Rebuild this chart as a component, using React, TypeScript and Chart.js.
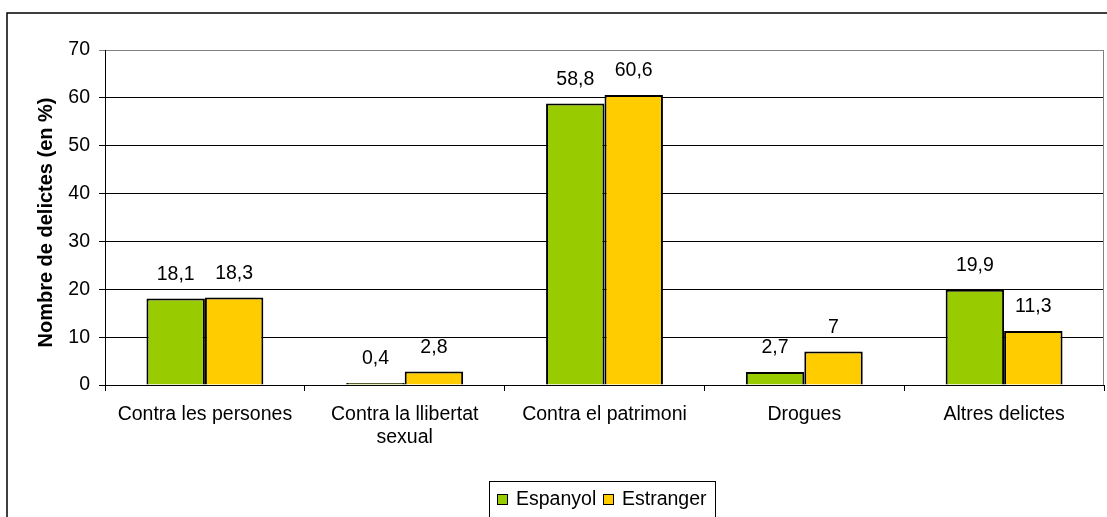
import React, { useEffect, useRef } from "react";
import { Chart, registerables } from "chart.js";

Chart.register(...registerables);

const categories: (string | string[])[] = [
  "Contra les persones",
  ["Contra la llibertat", "sexual"],
  "Contra el patrimoni",
  "Drogues",
  "Altres delictes",
];
const espanyol = [18.1, 0.4, 58.8, 2.7, 19.9];
const estranger = [18.3, 2.8, 60.6, 7, 11.3];
const seriesNames = ["Espanyol", "Estranger"];
const seriesColors = ["#99CC00", "#FFCC00"];
const yTitle = "Nombre de delictes (en %)";

const FONT = "'Liberation Sans', Arial, sans-serif";
const FS = 19.5;

const fmt = (v: number) => String(v).replace(".", ",");

export default function App() {
  const ref = useRef<HTMLCanvasElement>(null);

  useEffect(() => {
    if (!ref.current) return;

    const extras = {
      id: "extras",
      afterDatasetsDraw(chart: any) {
        const ctx = chart.ctx;
        ctx.save();
        ctx.fillStyle = "#000";
        ctx.font = `${FS}px ${FONT}`;
        ctx.textAlign = "center";
        ctx.textBaseline = "middle";
        chart.data.datasets.forEach((ds: any, i: number) => {
          const meta = chart.getDatasetMeta(i);
          meta.data.forEach((el: any, j: number) => {
            ctx.fillText(fmt(ds.data[j]), el.x, el.y - 24);
          });
        });
        ctx.restore();
      },
      afterDraw(chart: any) {
        const ctx = chart.ctx;
        const area = chart.chartArea;
        ctx.save();
        // plot area right border
        ctx.strokeStyle = "#808080";
        ctx.lineWidth = 1;
        ctx.beginPath();
        ctx.moveTo(Math.round(area.right) - 0.5, area.top);
        ctx.lineTo(Math.round(area.right) - 0.5, area.bottom);
        ctx.stroke();
        // y axis title
        ctx.fillStyle = "#000";
        ctx.font = `bold 20px ${FONT}`;
        ctx.textAlign = "center";
        ctx.textBaseline = "middle";
        ctx.save();
        ctx.translate(46, (area.top + area.bottom) / 2 + 5);
        ctx.rotate(-Math.PI / 2);
        ctx.fillText(yTitle, 0, 0);
        ctx.restore();
        // outer frame
        ctx.strokeStyle = "#000";
        ctx.lineWidth = 1.5;
        ctx.strokeRect(7, 13, 1140, 560);
        // legend
        ctx.lineWidth = 1;
        ctx.strokeStyle = "#000";
        ctx.strokeRect(489.5, 481.5, 226, 60);
        ctx.font = `${FS}px ${FONT}`;
        ctx.textBaseline = "middle";
        ctx.textAlign = "left";
        const items = [
          { sx: 497, tx: 516 },
          { sx: 603, tx: 622 },
        ];
        items.forEach((it, i) => {
          ctx.fillStyle = seriesColors[i];
          ctx.fillRect(it.sx, 494, 11, 11);
          ctx.strokeStyle = "#000";
          ctx.strokeRect(it.sx + 0.5, 494.5, 10, 10);
          ctx.fillStyle = "#000";
          ctx.fillText(seriesNames[i], it.tx, 500);
        });
        ctx.restore();
      },
    };

    const chart = new Chart(ref.current, {
      type: "bar",
      data: {
        labels: categories,
        datasets: [
          {
            label: seriesNames[0],
            data: espanyol,
            backgroundColor: seriesColors[0],
            borderColor: "#000",
            borderWidth: 2,
            categoryPercentage: 0.585,
            barPercentage: 1,
          },
          {
            label: seriesNames[1],
            data: estranger,
            backgroundColor: seriesColors[1],
            borderColor: "#000",
            borderWidth: 2,
            categoryPercentage: 0.585,
            barPercentage: 1,
          },
        ],
      },
      options: {
        animation: false,
        responsive: false,
        maintainAspectRatio: false,
        layout: { padding: { top: 50, right: 3, left: 0, bottom: 0 } },
        plugins: {
          legend: { display: false },
          tooltip: { enabled: false },
        },
        scales: {
          x: {
            offset: true,
            grid: {
              display: true,
              offset: true,
              drawOnChartArea: false,
              drawTicks: true,
              tickLength: 6,
              color: "#000",
            },
            border: { display: true, color: "#000", width: 1 },
            ticks: {
              color: "#000",
              font: { family: FONT, size: FS, lineHeight: 1.2 },
              padding: 12,
              maxRotation: 0,
              autoSkip: false,
            },
            afterFit(scale: any) {
              scale.height = 132;
            },
          },
          y: {
            min: 0,
            max: 70,
            ticks: {
              stepSize: 10,
              color: "#000",
              font: { family: FONT, size: FS },
              padding: 9,
            },
            grid: {
              color: (c: any) => (c.tick && c.tick.value === 70 ? "#808080" : "#000"),
              tickLength: 6,
              drawTicks: true,
            },
            border: { display: true, color: "#000", width: 1 },
            title: { display: false, text: yTitle },
            afterFit(scale: any) {
              scale.width = 105;
            },
          },
        },
      },
      plugins: [extras],
    });

    return () => chart.destroy();
  }, []);

  return (
    <div style={{ position: "fixed", left: 0, top: 0, width: 1107, height: 517, background: "#fff" }}>
      <canvas ref={ref} width={1107} height={517} style={{ display: "block" }} />
    </div>
  );
}
